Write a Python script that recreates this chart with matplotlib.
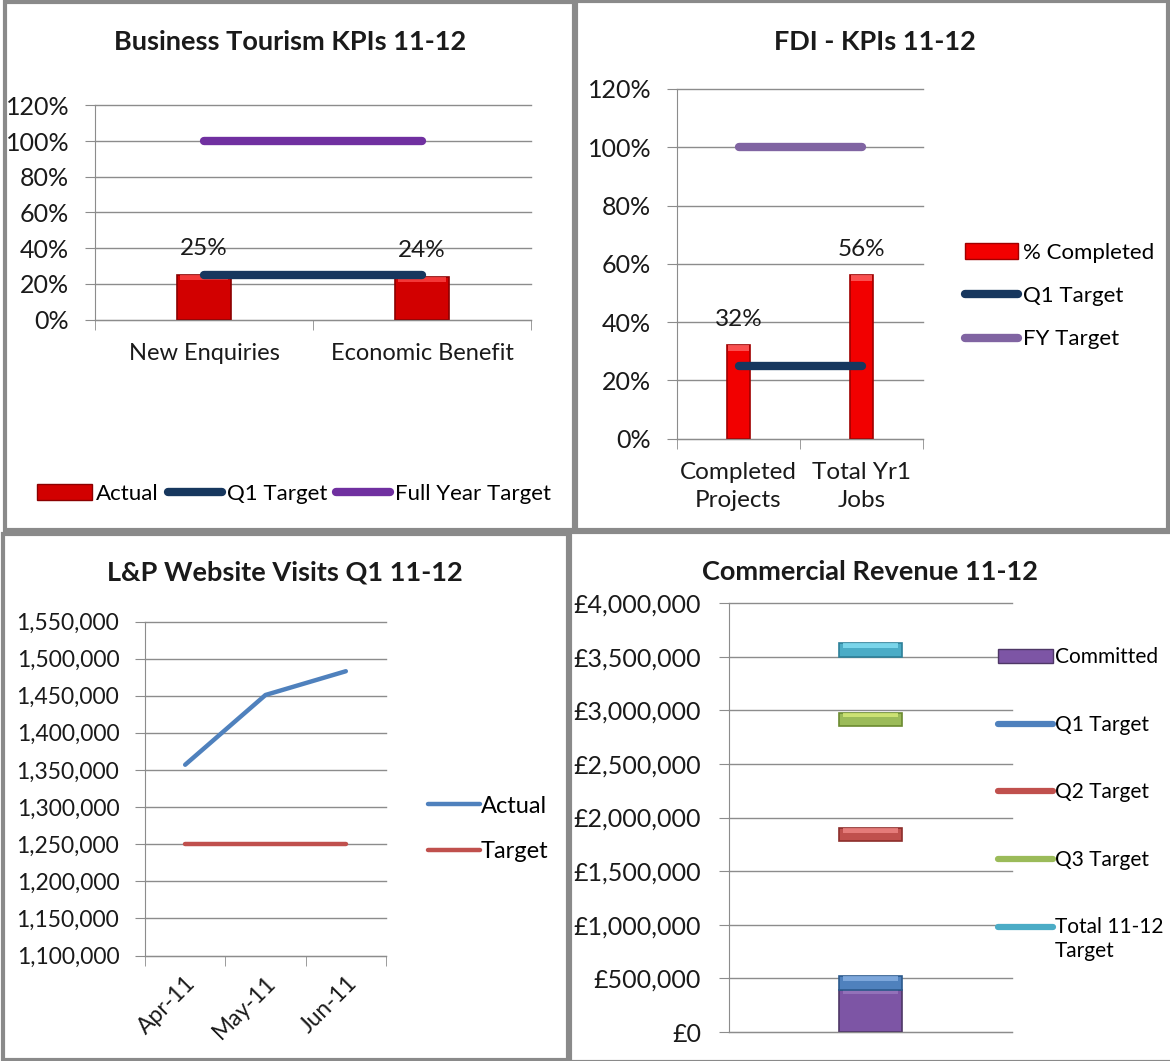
import matplotlib
matplotlib.use('Agg')
import matplotlib.pyplot as plt
from matplotlib.lines import Line2D
from matplotlib.patches import Patch, Rectangle
from matplotlib.ticker import FuncFormatter, MultipleLocator
from matplotlib.legend_handler import HandlerLine2D
import numpy as np

plt.rcParams['font.family'] = ['Lato', 'DejaVu Sans']

# --- data -------------------------------------------------------------
bt_cats = ['New Enquiries', 'Economic Benefit']
bt_actual = [0.25, 0.24]
bt_q1_target = [0.25, 0.25]
bt_fy_target = [1.0, 1.0]

fdi_cats = ['Completed\nProjects', 'Total Yr1\nJobs']
fdi_completed = [0.32, 0.56]
fdi_q1_target = [0.25, 0.25]
fdi_fy_target = [1.0, 1.0]

web_months = ['Apr-11', 'May-11', 'Jun-11']
web_actual = [1357000, 1451000, 1483000]
web_target = [1250000, 1250000, 1250000]

rev_committed = [390000]
rev_target_names = ['Q1 Target', 'Q2 Target', 'Q3 Target', 'Total 11-12\nTarget']
rev_target_values = [455000, 1840000, 2915000, 3560000]

# --- figure -----------------------------------------------------------
W, H = 1170, 1061
fig = plt.figure(figsize=(W / 100, H / 100), dpi=100)
GRID = '#8c8c8c'
TXT = '#1a1a1a'


def axes_px(l, t, r, b):
    return fig.add_axes([l / W, 1 - b / H, (r - l) / W, (b - t) / H])


def style(ax, ysize, n_cats=None, pad=11.5):
    for s in ['top', 'right']:
        ax.spines[s].set_visible(False)
    for s in ['left', 'bottom']:
        ax.spines[s].set_color(GRID)
    ax.yaxis.grid(True, color=GRID, lw=1)
    ax.set_axisbelow(True)
    ax.tick_params(axis='y', length=7, color=GRID, labelsize=ysize, labelcolor=TXT, pad=pad)
    if n_cats:
        ax.set_xlim(-0.5, n_cats - 0.5)
        ax.set_xticks(np.arange(-0.5, n_cats), minor=True)
        ax.tick_params(axis='x', which='minor', length=7, color=GRID)
        ax.tick_params(axis='x', which='major', length=0, labelcolor=TXT)
    for gl in ax.get_ygridlines():
        gl.set_clip_on(False)


def bevel(ax, x, heights, width, face, light, dark, strip, bottoms=0, z=2):
    ax.bar(x, heights, width, bottom=bottoms, color=face, edgecolor=dark, lw=1.2, zorder=z)
    tops = np.asarray(bottoms) + np.asarray(heights)
    ax.bar(x, strip, width * 0.88, bottom=tops - strip, color=light, lw=0, zorder=z, alpha=0.75)


def frame(l, t, r, b):
    fig.patches.append(Rectangle((l / W, 1 - b / H), (r - l) / W, (b - t) / H,
                                 transform=fig.transFigure, fill=False,
                                 edgecolor='#8a8a8a', lw=3))


class FirstLineHandler(HandlerLine2D):
    # puts the legend line next to the first line of a two-line label
    def create_artists(self, legend, orig_handle, xdescent, ydescent, width, height,
                       fontsize, trans):
        arts = super().create_artists(legend, orig_handle, xdescent, ydescent, width,
                                      height, fontsize, trans)
        for a in arts:
            a.set_ydata(np.asarray(a.get_ydata()) + 0.62 * fontsize)
        return arts


frame(5, 2, 574, 530)
frame(576, 1, 1168, 530)
frame(3, 534, 568, 1060)
frame(570, 532, 1172, 1062)

pct = FuncFormatter(lambda v, p: f'{v:.0%}')

# --- Business Tourism ---------------------------------------------------
ax1 = axes_px(95, 105.5, 531, 319.5)
x1 = np.arange(len(bt_cats))
bevel(ax1, x1, bt_actual, 0.25, '#D20000', '#FF4A4A', '#8B0000', 0.03)
ax1.plot(x1, bt_q1_target, color='#17375E', lw=6, solid_capstyle='round', zorder=3)
ax1.plot(x1, bt_fy_target, color='#7030A0', lw=6, solid_capstyle='round', zorder=3)
for xi, v in zip(x1, bt_actual):
    ax1.annotate(f'{v:.0%}', (xi, v), xytext=(0, 19), textcoords='offset points',
                 ha='center', va='center', fontsize=17.5, color=TXT)
ax1.set_ylim(0, 1.2)
ax1.yaxis.set_major_locator(MultipleLocator(0.2))
ax1.yaxis.set_major_formatter(pct)
style(ax1, 18, len(bt_cats))
ax1.set_xticks(x1)
ax1.set_xticklabels(bt_cats, fontsize=17)
ax1.tick_params(axis='x', which='major', pad=17)
h1 = [Patch(facecolor='#D20000', edgecolor='#8B0000'),
      Line2D([], [], color='#17375E', lw=6, solid_capstyle='round'),
      Line2D([], [], color='#7030A0', lw=6, solid_capstyle='round')]
ax1.legend(h1, ['Actual', 'Q1 Target', 'Full Year Target'], loc='center',
           bbox_to_anchor=(294 / W, 1 - 494 / H), bbox_transform=fig.transFigure,
           ncol=3, frameon=False, fontsize=16, handlelength=2.45, handletextpad=0.2,
           columnspacing=0.4, borderpad=0)
fig.text(290 / W, 1 - 42 / H, 'Business Tourism KPIs 11-12', ha='center', va='center',
         fontsize=19.5, fontweight='bold', color=TXT)

# --- FDI ---------------------------------------------------------------
ax2 = axes_px(677, 89, 923, 438.5)
x2 = np.arange(len(fdi_cats))
bevel(ax2, x2, fdi_completed, 0.195, '#F20000', '#FF6A6A', '#A00000', 0.02)
ax2.plot(x2, fdi_q1_target, color='#17375E', lw=6, solid_capstyle='round', zorder=3)
ax2.plot(x2, fdi_fy_target, color='#8064A2', lw=6, solid_capstyle='round', zorder=3)
for xi, v in zip(x2, fdi_completed):
    ax2.annotate(f'{v:.0%}', (xi, v), xytext=(0, 18.5), textcoords='offset points',
                 ha='center', va='center', fontsize=17.5, color=TXT)
ax2.set_ylim(0, 1.2)
ax2.yaxis.set_major_locator(MultipleLocator(0.2))
ax2.yaxis.set_major_formatter(pct)
style(ax2, 18, len(fdi_cats))
ax2.set_xticks(x2)
ax2.set_xticklabels(fdi_cats, fontsize=17.5, linespacing=1.4)
ax2.tick_params(axis='x', which='major', pad=17)
h2 = [Patch(facecolor='#F20000', edgecolor='#A00000'),
      Line2D([], [], color='#17375E', lw=6, solid_capstyle='round'),
      Line2D([], [], color='#8064A2', lw=6, solid_capstyle='round')]
ax2.legend(h2, ['% Completed', 'Q1 Target', 'FY Target'], loc='center left',
           bbox_to_anchor=(954 / W, 1 - 296 / H), bbox_transform=fig.transFigure,
           frameon=False, fontsize=16, handlelength=2.4, handletextpad=0.2,
           labelspacing=1.05, borderpad=0)
fig.text(875 / W, 1 - 42 / H, 'FDI - KPIs 11-12', ha='center', va='center',
         fontsize=19.5, fontweight='bold', color=TXT)

# --- Website visits ----------------------------------------------------
ax3 = axes_px(145, 621.5, 386, 955.5)
x3 = np.arange(len(web_months))
ax3.plot(x3, web_actual, color='#4F81BD', lw=3.2, solid_capstyle='round', zorder=3)
ax3.plot(x3, web_target, color='#C0504D', lw=3.2, solid_capstyle='round', zorder=3)
ax3.set_ylim(1100000, 1550000)
ax3.yaxis.set_major_locator(MultipleLocator(50000))
ax3.yaxis.set_major_formatter(FuncFormatter(lambda v, p: f'{v:,.0f}'))
style(ax3, 16.5, len(web_months))
ax3.set_xticks(x3)
ax3.set_xticklabels(web_months, fontsize=16.5, rotation=45, ha='right',
                    rotation_mode='anchor')
ax3.tick_params(axis='x', which='major', pad=12)
h3 = [Line2D([], [], color='#4F81BD', lw=3.2, solid_capstyle='round'),
      Line2D([], [], color='#C0504D', lw=3.2, solid_capstyle='round')]
ax3.legend(h3, ['Actual', 'Target'], loc='center left',
           bbox_to_anchor=(416 / W, 1 - 829 / H), bbox_transform=fig.transFigure,
           frameon=False, fontsize=17, handlelength=2.2, handletextpad=0.05,
           labelspacing=1.05, borderpad=0)
fig.text(285 / W, 1 - 573 / H, 'L&P Website Visits Q1 11-12', ha='center', va='center',
         fontsize=19.5, fontweight='bold', color=TXT)

# --- Commercial revenue ------------------------------------------------
ax4 = axes_px(729, 603, 1012, 1032)
band = 125000
bevel(ax4, [0], rev_committed, 0.22, '#7D55A5', '#9B7BC0', '#4E3766', 40000)
rev_colors = ['#4F81BD', '#C0504D', '#9BBB59', '#4BACC6']
rev_light = ['#8DB4E6', '#F28A88', '#DDF07E', '#8BE4F7']
rev_dark = ['#2C5A8C', '#8C2E2B', '#6B8A30', '#2D8099']
for v, c, lc, dc in zip(rev_target_values, rev_colors, rev_light, rev_dark):
    bevel(ax4, [0], [band], 0.22, c, lc, dc, 45000, bottoms=[v - band / 2], z=3)
ax4.set_ylim(0, 4000000)
ax4.set_xlim(-0.5, 0.5)
ax4.yaxis.set_major_locator(MultipleLocator(500000))
ax4.yaxis.set_major_formatter(FuncFormatter(lambda v, p: f'£{v:,.0f}'))
style(ax4, 18, pad=13)
ax4.set_xticks([])
h4 = [Patch(facecolor='#7D55A5', edgecolor='#4E3766')] + \
     [Line2D([], [], color=c, lw=4.5, solid_capstyle='round') for c in rev_colors]
ax4.legend(h4, ['Committed'] + rev_target_names, loc='upper left',
           bbox_to_anchor=(988 / W, 1 - 637 / H), bbox_transform=fig.transFigure,
           frameon=False, fontsize=15, handlelength=2.6, handletextpad=0.1,
           labelspacing=2.28, borderpad=0, handler_map={h4[-1]: FirstLineHandler()})
fig.text(870 / W, 1 - 572 / H, 'Commercial Revenue 11-12', ha='center', va='center',
         fontsize=19.5, fontweight='bold', color=TXT)

fig.savefig('out.png', dpi=100)
